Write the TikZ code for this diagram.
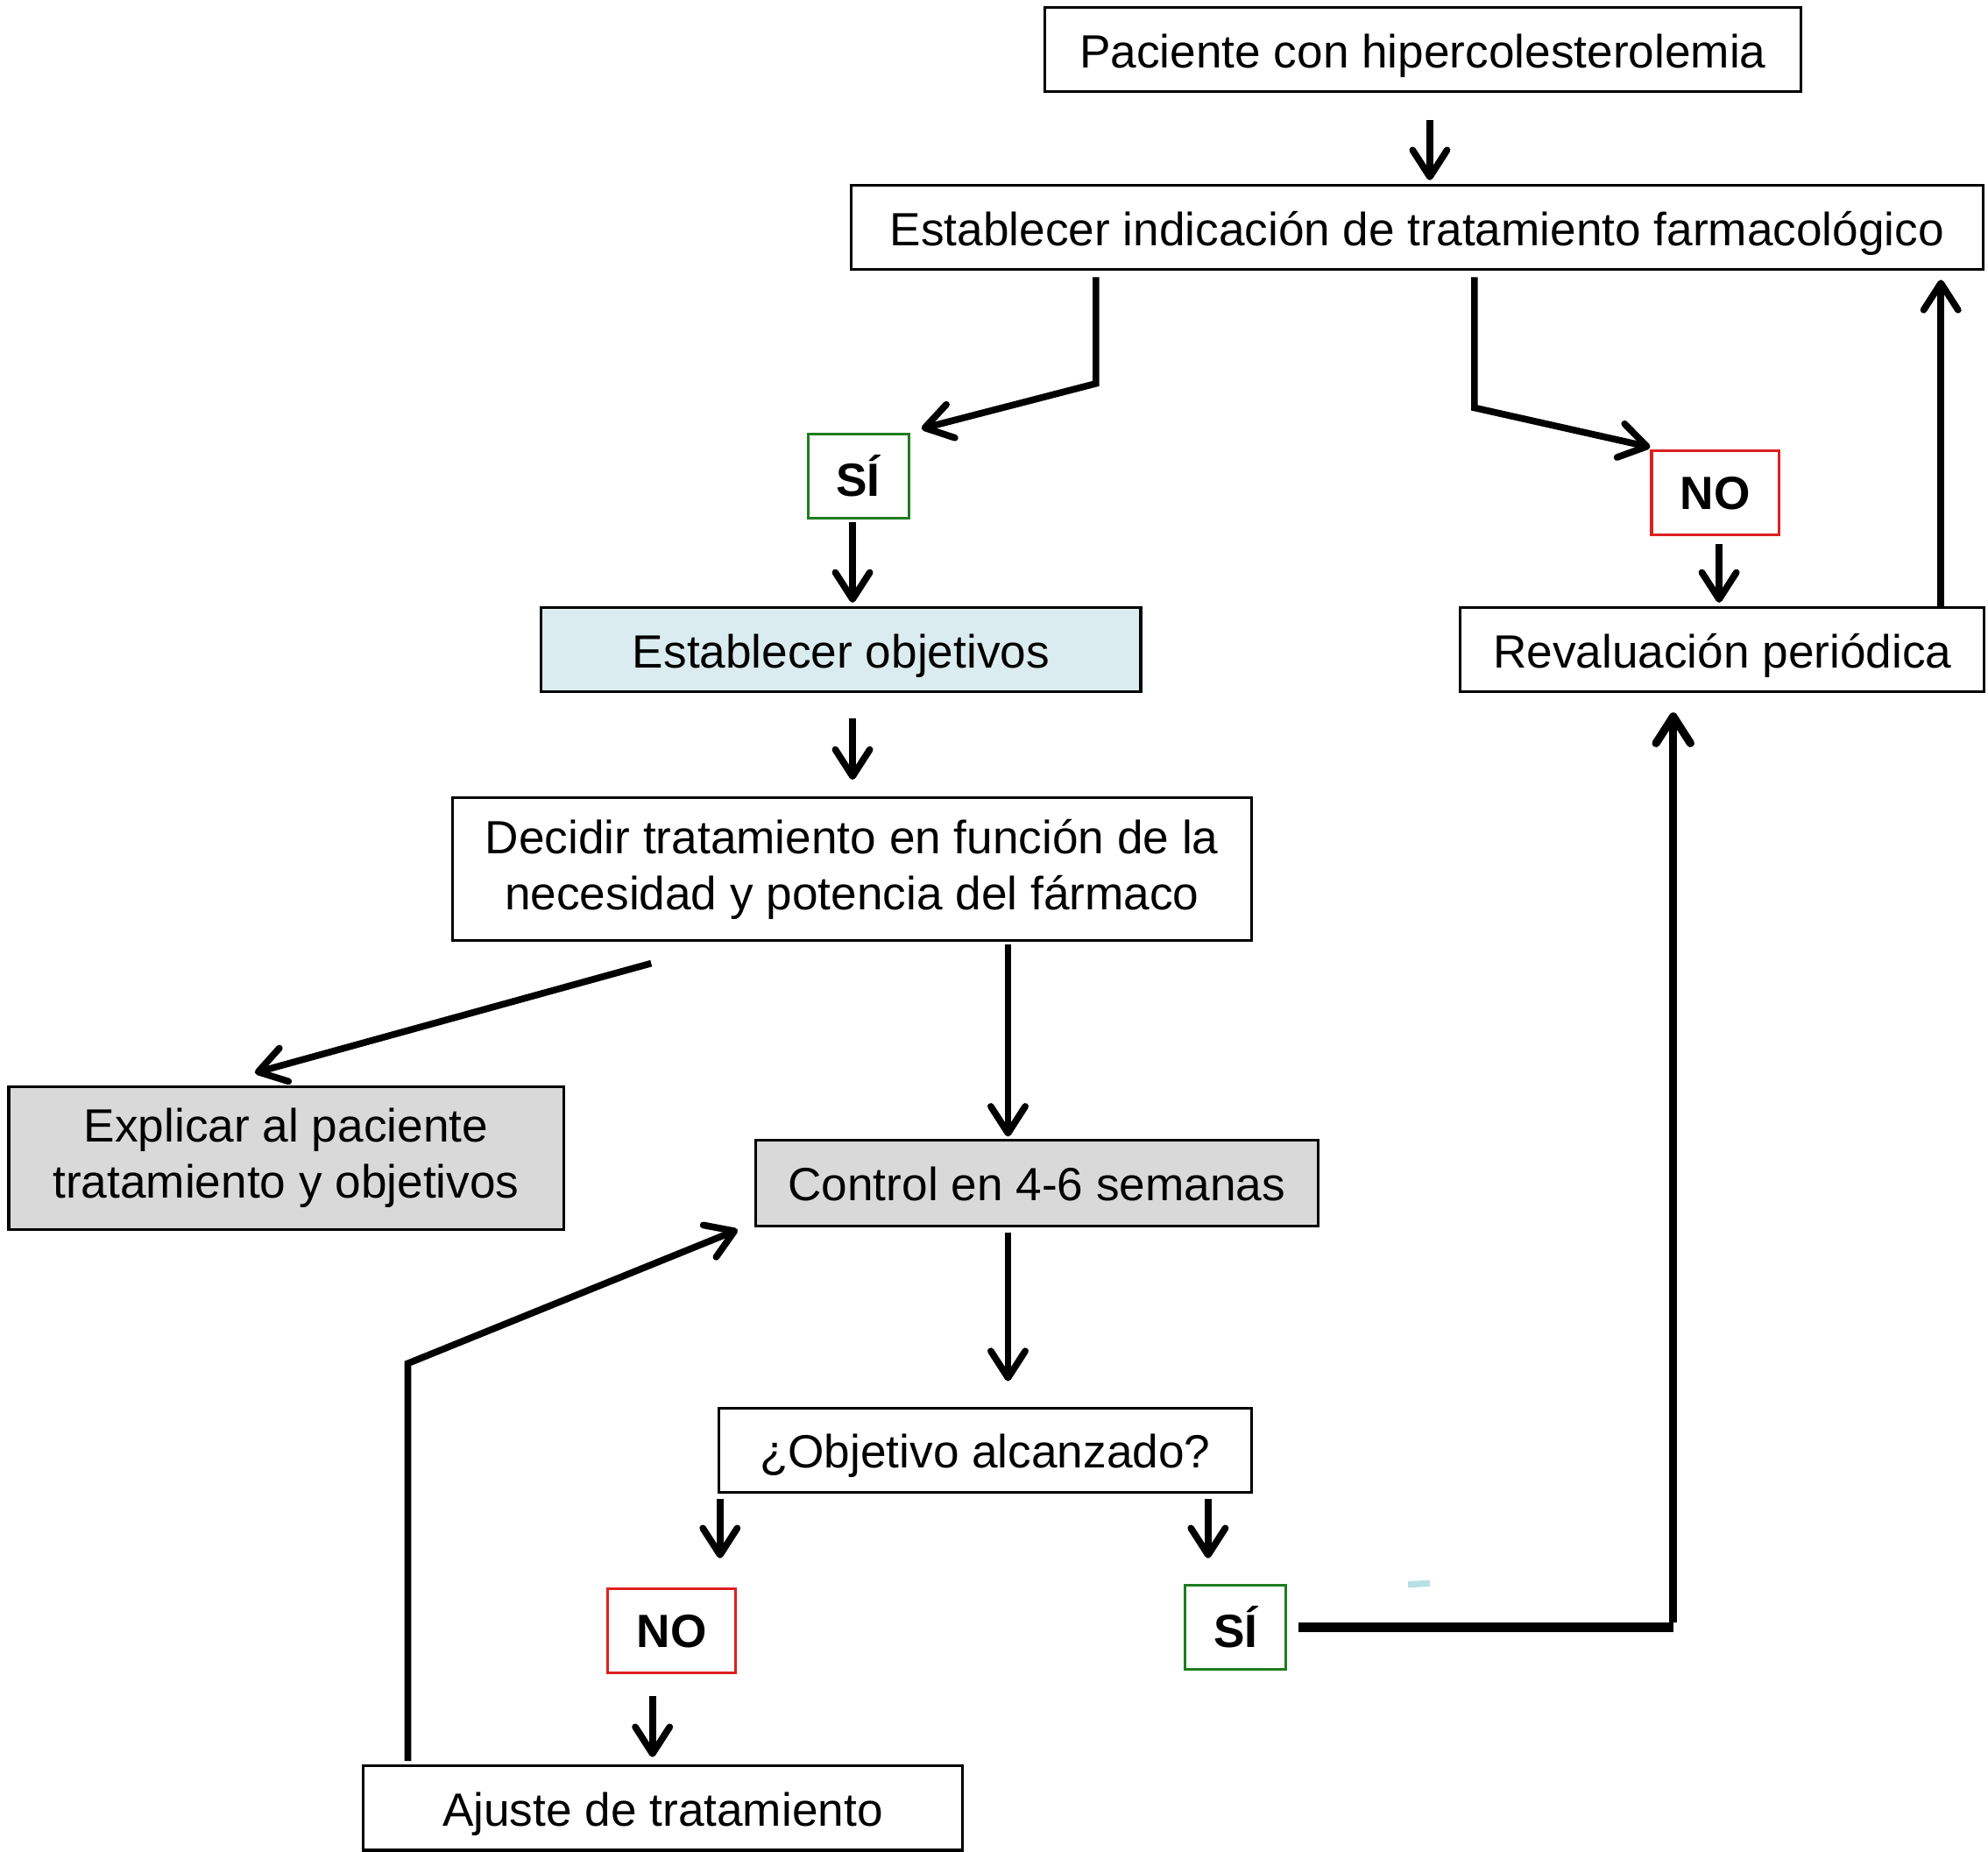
\documentclass[tikz,border=0pt]{standalone}
\usepackage{fontspec}
\setmainfont{Liberation Sans}
\usepackage{tikz}
\usetikzlibrary{arrows.meta}
\usetikzlibrary{calc}

\definecolor{verdesi}{RGB}{30,125,30}
\definecolor{rojono}{RGB}{222,32,32}
\definecolor{azulobj}{RGB}{219,236,240}
\definecolor{grisctl}{RGB}{217,217,217}
\definecolor{marca}{RGB}{183,224,230}

\begin{document}
\begin{tikzpicture}[x=0.01cm, y=-0.01cm,
    every node/.style={font=\fontsize{10.4}{12.5}\selectfont, inner sep=0pt, align=center},
    caja/.style={draw, line width=0.6pt, minimum height=0.66cm},
    linea/.style={text height=0.9em, text depth=0.1em},
    cajasi/.style={draw=verdesi, line width=0.6pt, minimum width=0.79cm, minimum height=0.66cm, font=\fontsize{10.4}{12.5}\selectfont\bfseries},
    cajano/.style={draw=rojono, line width=0.6pt, minimum width=1cm, minimum height=0.66cm, font=\fontsize{10.4}{12.5}\selectfont\bfseries},
    flecha/.style={line width=1.5pt, -{Straight Barb[length=2.1mm, width=2.7mm, round]}}]

    \useasboundingbox (0,0) rectangle (1560,1453);

    \node[caja, linea, minimum width=5.93cm] (P) at (1116.5,39) {Paciente con hipercolesterolemia};

    \node[caja, linea, minimum width=8.88cm] (E) at (1112,178.5) {Establecer indicación de tratamiento farmacológico};

    \node[cajasi] (S1) at (673.5,373.5) {SÍ};

    \node[cajano] (N1) at (1346,387) {NO};

    \node[caja, linea, fill=azulobj, minimum width=4.7cm] (O) at (660,510) {Establecer objetivos};

    \node[caja, linea, minimum width=4.11cm] (R) at (1351.5,510) {Revaluación periódica};

    \node[caja, minimum width=6.27cm, minimum height=1.12cm] (D) at (668.5,682) {Decidir tratamiento en función de la\\necesidad y potencia del fármaco};

    \node[caja, fill=grisctl, minimum width=4.35cm, minimum height=1.12cm] (X) at (224.5,909) {Explicar al paciente\\tratamiento y objetivos};

    \node[caja, linea, fill=grisctl, minimum width=4.41cm, minimum height=0.67cm] (C) at (813.5,928.5) {Control en 4-6 semanas};

    \node[caja, linea, minimum width=4.18cm] (Q) at (773,1138) {¿Objetivo alcanzado?};

    \node[cajano] (N2) at (527,1280) {NO};

    \node[cajasi] (S2) at (969.5,1277) {SÍ};

    \node[caja, linea, minimum width=4.7cm] (J) at (520,1419) {Ajuste de tratamiento};

    % columnas de las flechas
    \coordinate (x1) at (1122,0);
    \coordinate (x2) at (669,0);
    \coordinate (x3) at (1349,0);
    \coordinate (x4) at (1523,0);
    \coordinate (x5) at (791,0);
    \coordinate (x6) at (565,0);
    \coordinate (x7) at (948,0);
    \coordinate (x8) at (512,0);
    \coordinate (x9) at (1313,0);

    % codos
    \coordinate (c1) at (860,301);
    \coordinate (c2) at (1157,320);
    \coordinate (c3) at (511,756);
    \coordinate (c4) at (320,1070);

    \draw[flecha, shorten <=0.21cm, shorten >=0.03cm] (x1 |- P.south) -- (x1 |- E.north);

    \draw[flecha, shorten <=0.05cm] (c1 |- E.south) -- (c1) -- ([shift={(9,-3)}]S1.north east);

    \draw[flecha, shorten <=0.05cm] (c2 |- E.south) -- (c2) -- ([shift={(0,-2)}]N1.north west);

    \draw[flecha, shorten <=0.02cm, shorten >=0.03cm] (x2 |- S1.south) -- (x2 |- O.north);

    \draw[flecha, shorten <=0.06cm, shorten >=0.03cm] (x3 |- N1.south) -- (x3 |- R.north);

    \draw[flecha, shorten >=0.07cm] (x4 |- R.north) -- (x4 |- E.south);

    \draw[flecha, shorten <=0.2cm, shorten >=0.13cm] (x2 |- O.south) -- (x2 |- D.north);

    \draw[flecha] (c3) -- ([shift={(-24.5,-10)}]X.north);

    \draw[flecha, shorten <=0.02cm, shorten >=0.02cm] (x5 |- D.south) -- (x5 |- C.north);

    \draw[flecha, shorten <=0.04cm, shorten >=0.2cm] (x5 |- C.south) -- (x5 |- Q.north);

    \draw[flecha, shorten <=0.04cm, shorten >=0.23cm] (x6 |- Q.south) -- (x6 |- N2.north);

    \draw[flecha, shorten <=0.04cm, shorten >=0.2cm] (x7 |- Q.south) -- (x7 |- S2.north);

    \draw[flecha, shorten <=0.17cm, shorten >=0.06cm] (x8 |- N2.south) -- (x8 |- J.north);

    \draw[line width=2.1pt, shorten <=0.09cm] (S2.east) -- (S2.east -| x9);
    \draw[flecha, line width=1.8pt, shorten >=0.15cm] ([yshift=0.037cm]S2.east -| x9) -- (x9 |- R.south);

    \draw[flecha, shorten <=0.03cm] (c4 |- J.north) -- (c4) -- ([shift={(-13,2)}]C.south west);

    % marca suelta
    \fill[marca] (1105,1241) -- (1122,1240) -- (1122,1245) -- (1105,1246) -- cycle;

\end{tikzpicture}
\end{document}
